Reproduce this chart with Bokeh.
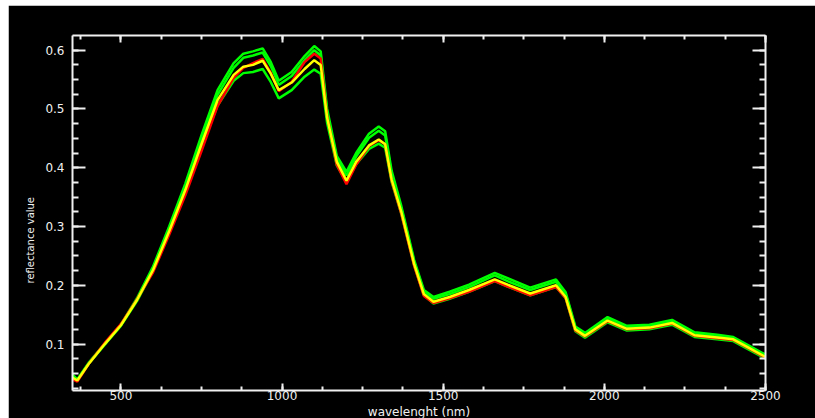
from bokeh.plotting import figure
from bokeh.models import (Range1d, LinearAxis, SingleIntervalTicker, Title, Spacer,
                          CustomJSTickFormatter)
from bokeh.layouts import column, row
from bokeh.embed import file_html
from bokeh.resources import INLINE

wavelength = [350, 365, 400, 450, 500, 550, 600, 650, 700, 750, 800, 850, 880, 910, 940,
              965, 990, 1030, 1070, 1100, 1120, 1140, 1170, 1200, 1230, 1270, 1300, 1320,
              1340, 1370, 1410, 1440, 1470, 1520, 1580, 1660, 1700, 1770, 1850, 1880, 1910,
              1940, 2010, 2070, 2140, 2210, 2280, 2350, 2400, 2450, 2500]

yellow = [.043, .038, .066, .100, .132, .175, .226, .292, .362, .440, .515, .558, .572, .575, .582,
          .560, .532, .545, .568, .583, .575, .485, .410, .378, .410, .438, .448, .440,
          .380, .325, .236, .185, .172, .180, .192, .210, .201, .186, .200, .180, .125,
          .114, .140, .126, .128, .136, .115, .111, .108, .093, .078]

green_top = [.048, .040, .068, .101, .133, .178, .232, .300, .373, .455, .532, .578, .594, .598, .603,
             .580, .548, .563, .590, .607, .598, .500, .420, .393, .425, .458, .470, .462,
             .395, .335, .243, .192, .180, .189, .201, .221, .212, .196, .210, .188, .130,
             .119, .146, .131, .133, .141, .120, .116, .112, .097, .082]

green_mid = [.046, .039, .067, .100, .132, .176, .229, .296, .367, .447, .524, .570, .587, .591, .596,
             .573, .541, .556, .583, .600, .591, .494, .416, .387, .419, .451, .463, .455,
             .390, .331, .240, .189, .177, .185, .197, .217, .207, .192, .206, .185, .128,
             .117, .144, .129, .131, .139, .118, .114, .110, .095, .080]

red = [.040, .036, .066, .102, .134, .176, .222, .286, .353, .428, .505, .553, .570, .578, .585,
       .562, .530, .546, .580, .594, .586, .488, .405, .372, .405, .437, .447, .440,
       .378, .322, .233, .182, .170, .178, .189, .207, .198, .183, .197, .178, .123,
       .113, .139, .125, .127, .135, .114, .110, .107, .092, .077]

green_low = [.044, .039, .066, .099, .131, .173, .225, .290, .359, .436, .506, .548, .561, .563, .568,
             .546, .518, .532, .555, .567, .560, .476, .404, .375, .406, .432, .441, .434,
             .376, .322, .234, .183, .169, .177, .189, .207, .198, .183, .197, .178, .122,
             .111, .137, .123, .125, .133, .112, .108, .105, .090, .075]

x_title = "wavelenght (nm)"
y_title = "reflectance value"

FONT = "DejaVu Sans"
FG = "#f0f0f0"

p = figure(width=807, height=413, x_range=Range1d(350, 2500), y_range=Range1d(0.021, 0.625),
           background_fill_color="black", border_fill_color="black",
           output_backend="svg", toolbar_location=None,
           x_axis_location=None, y_axis_location=None,
           min_border_left=64, min_border_right=50, min_border_top=30, min_border_bottom=28)
p.outline_line_color = None
p.xgrid.visible = False
p.ygrid.visible = False

blank = CustomJSTickFormatter(code="return ''")


def style_axis(ax, tick_major, tick_minor, labels):
    ax.axis_line_color = FG
    ax.axis_line_width = 2
    ax.major_tick_line_color = FG
    ax.major_tick_line_width = 2
    ax.minor_tick_line_color = FG
    ax.minor_tick_line_width = 2
    ax.major_tick_in = tick_major
    ax.major_tick_out = 0
    ax.minor_tick_in = tick_minor
    ax.minor_tick_out = 0
    ax.major_label_text_color = FG
    ax.major_label_text_font = FONT
    ax.major_label_text_font_size = "12px"
    if not labels:
        ax.formatter = blank


xb = LinearAxis(ticker=SingleIntervalTicker(interval=500, num_minor_ticks=4))
style_axis(xb, 7, 4, True)
xb.major_label_standoff = 0
xt = LinearAxis(ticker=SingleIntervalTicker(interval=500, num_minor_ticks=4))
style_axis(xt, 7, 4, False)
yl = LinearAxis(ticker=SingleIntervalTicker(interval=0.1, num_minor_ticks=4))
style_axis(yl, 13, 6, True)
yl.major_label_standoff = 8
yr = LinearAxis(ticker=SingleIntervalTicker(interval=0.1, num_minor_ticks=4))
style_axis(yr, 13, 6, False)

p.add_layout(xb, "below")
p.add_layout(xt, "above")
p.add_layout(yl, "left")
p.add_layout(yr, "right")

for series, color in [(green_top, "#00ff00"), (green_mid, "#00ff00"), (green_low, "#00ff00"),
                      (red, "#ff0000"), (yellow, "#ffff00")]:
    p.line(wavelength, series, line_color=color, line_width=2.5)

ty = Title(text=y_title, align="left", offset=107, standoff=13,
           text_color=FG, text_font=FONT, text_font_size="10px", text_font_style="normal")
p.add_layout(ty, "left")
tx = Title(text=x_title, align="center", offset=0, standoff=0,
           text_color=FG, text_font=FONT, text_font_size="12px", text_font_style="normal")
p.add_layout(tx, "below")

layout = column(Spacer(width=815, height=5), row(Spacer(width=8, height=413), p))
open("out.html", "w").write(file_html(layout, INLINE))
